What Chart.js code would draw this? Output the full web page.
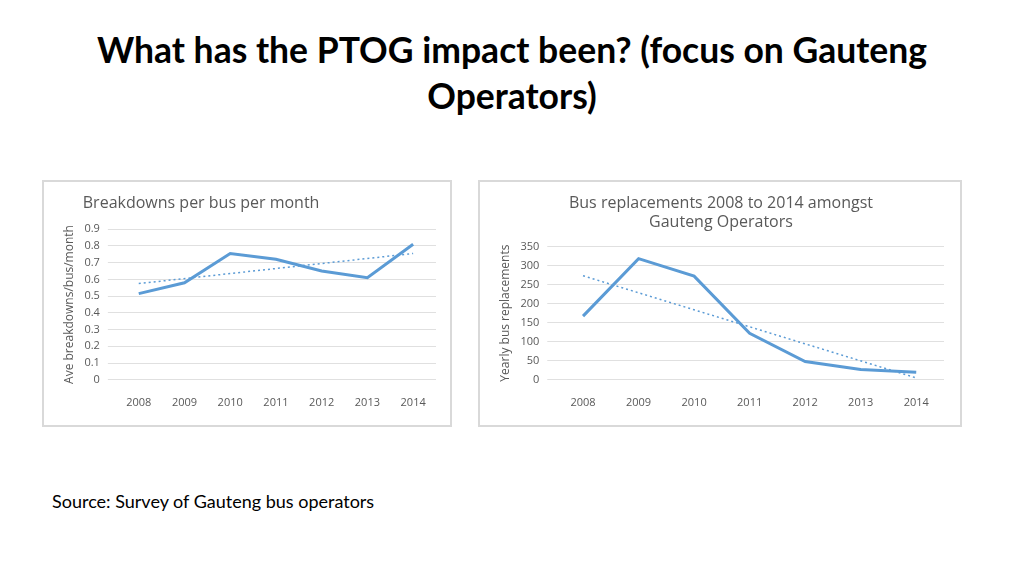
<!DOCTYPE html>
<html><head><meta charset="utf-8">
<script src="https://cdn.jsdelivr.net/npm/chart.js@4"></script>
<style>
body{margin:0;width:1024px;height:575px;background:#fff;font-family:Lato,"Open Sans",sans-serif;position:relative;overflow:hidden}
h1{position:absolute;top:27px;left:0;width:1024px;margin:0;text-align:center;font-size:35.5px;line-height:46px;font-weight:bold;color:#000}
.box{position:absolute;border:2px solid #d9d9d9;box-sizing:border-box;background:#fff}
.src{position:absolute;left:52px;top:490px;font-size:18px;color:#000}
</style></head><body>
<h1>What has the PTOG impact been? (focus on Gauteng<br>Operators)</h1>
<div class="box" style="left:42px;top:180px;width:410px;height:247px"><canvas id="c1"></canvas></div>
<div class="box" style="left:478px;top:180px;width:484px;height:247px"><canvas id="c2"></canvas></div>
<div class="src">Source: Survey of Gauteng bus operators</div>
<script>
const years = ['2008','2009','2010','2011','2012','2013','2014'];
const breakdowns = [0.515,0.58,0.755,0.72,0.65,0.61,0.81];
const breakdownTrend = [0.575,null,null,null,null,null,0.755];
const replacements = [167,318,272,122,48,27,20];
const replacementTrend = [273,null,null,null,null,null,5];

Chart.defaults.font.family = "'Open Sans', sans-serif";
const blue = '#5b9bd5', grey = '#595959';
function make(id, title, ylabel, data, trend, max, step, pad, align, tpad){
  new Chart(document.getElementById(id), {
    type:'line',
    data:{labels:years, datasets:[
      {data:data, borderColor:blue, borderWidth:3, pointRadius:0, tension:0, fill:false},
      {data:trend, borderColor:blue, borderWidth:1.5, borderDash:[2,3], pointRadius:0, spanGaps:true, fill:false}
    ]},
    options:{responsive:true, maintainAspectRatio:false, animation:false,
      layout:{padding:pad},
      plugins:{legend:{display:false}, tooltip:{enabled:false},
        title:{display:true, text:title, align:align, color:grey, font:{family:'Open Sans', size:16, weight:'normal'}, padding:tpad}},
      scales:{
        x:{offset:true, grid:{display:false}, border:{display:false}, ticks:{color:grey, font:{size:11}, padding:8}},
        y:{min:0, max:max, ticks:{stepSize:step, color:grey, font:{size:11}, padding:8}, border:{display:false},
          grid:{color:'#e0e0e0'}, title:{display:true, text:ylabel, color:grey, font:{size:12}, padding:0}}
      }}
  });
}
make('c1','     Breakdowns per bus per month','Ave breakdowns/bus/month',breakdowns,breakdownTrend,0.9,0.1,{top:12,left:18,right:14,bottom:8},'start',{top:0,bottom:16});
make('c2',['Bus replacements 2008 to 2014 amongst','Gauteng Operators'],'Yearly bus replacements',replacements,replacementTrend,350,50,{top:12,left:18,right:16,bottom:8},'center',{top:0,bottom:14});
</script>
</body></html>
